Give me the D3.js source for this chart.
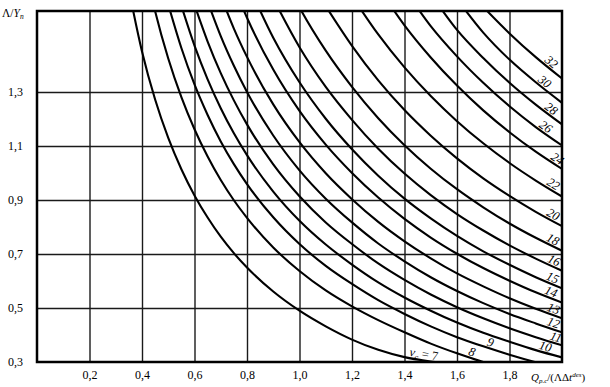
<!DOCTYPE html>
<html>
<head>
<meta charset="utf-8">
<script src="https://cdn.jsdelivr.net/npm/d3@7"></script>
<style>
body { margin: 0; background: #fff; }
text { font-family: "Liberation Serif", "DejaVu Serif", serif; fill: #000; }
</style>
</head>
<body>
<div id="chart"></div>
<script>
var svgWidth = 610;
var svgHeight = 387;

var margin = { top: 11, right: 48, bottom: 25, left: 37 };
var width = svgWidth - margin.left - margin.right;
var height = svgHeight - margin.top - margin.bottom;

// x samples (Q / (Lambda * dt)) shared by all curves
var qGrid = [0.35, 0.4, 0.45, 0.5, 0.55, 0.6, 0.65, 0.7, 0.75, 0.8, 0.9, 1.0,
             1.1, 1.2, 1.3, 1.4, 1.5, 1.6, 1.7, 1.8, 1.9, 2.0];

// curve parameter nu_c
var nuValues = [7, 8, 9, 10, 11, 12, 13, 14, 15, 16, 18, 20, 22, 24, 26, 28, 30, 32];

// index in qGrid of the first value of each curve
var startIdx = [0, 1, 3, 4, 5, 6, 7, 8, 9, 10, 10, 12, 13, 14, 15, 16, 17, 18];

// Lambda / Y_n
var ratio = [
  [1.679, 1.45, 1.272, 1.13, 1.014, 0.917, 0.835, 0.764, 0.703, 0.65, 0.561, 0.49, 0.432, 0.383, 0.345, 0.318, 0.302, 0.292],
  [1.818, 1.599, 1.424, 1.281, 1.162, 1.061, 0.974, 0.899, 0.834, 0.724, 0.637, 0.565, 0.506, 0.455, 0.41, 0.368, 0.332, 0.30, 0.275],
  [1.624, 1.463, 1.328, 1.215, 1.117, 1.033, 0.959, 0.836, 0.737, 0.656, 0.589, 0.529, 0.478, 0.432, 0.392, 0.358, 0.327, 0.299, 0.274],
  [1.619, 1.472, 1.347, 1.24, 1.147, 1.066, 0.931, 0.823, 0.735, 0.661, 0.595, 0.539, 0.49, 0.446, 0.408, 0.375, 0.344, 0.317],
  [1.623, 1.487, 1.37, 1.269, 1.18, 1.032, 0.914, 0.817, 0.737, 0.665, 0.604, 0.55, 0.503, 0.462, 0.425, 0.392, 0.362],
  [1.635, 1.507, 1.397, 1.30, 1.139, 1.01, 0.905, 0.817, 0.739, 0.673, 0.614, 0.563, 0.518, 0.478, 0.443, 0.41],
  [1.656, 1.535, 1.43, 1.254, 1.114, 0.999, 0.903, 0.819, 0.747, 0.684, 0.628, 0.58, 0.536, 0.497, 0.462],
  [1.69, 1.575, 1.383, 1.23, 1.105, 1.0, 0.909, 0.83, 0.761, 0.701, 0.648, 0.601, 0.558, 0.52],
  [1.708, 1.501, 1.336, 1.201, 1.088, 0.99, 0.905, 0.832, 0.767, 0.71, 0.66, 0.614, 0.573],
  [1.646, 1.466, 1.319, 1.197, 1.09, 0.998, 0.918, 0.848, 0.787, 0.732, 0.683, 0.638],
  [1.809, 1.613, 1.453, 1.319, 1.203, 1.103, 1.016, 0.94, 0.873, 0.813, 0.76, 0.712],
  [1.618, 1.471, 1.343, 1.233, 1.138, 1.054, 0.98, 0.915, 0.856, 0.803],
  [1.655, 1.513, 1.391, 1.285, 1.192, 1.11, 1.037, 0.972, 0.913],
  [1.688, 1.547, 1.428, 1.324, 1.232, 1.151, 1.079, 1.015],
  [1.681, 1.544, 1.432, 1.334, 1.247, 1.17, 1.102],
  [1.663, 1.53, 1.426, 1.334, 1.253, 1.18],
  [1.644, 1.52, 1.42, 1.336, 1.26],
  [1.615, 1.517, 1.429, 1.35]
];

// where along each curve its label sits (x value)
var labelQ = [1.47, 1.65, 1.72, 1.93, 1.97, 1.96, 1.96, 1.95, 1.955, 1.96, 1.955, 1.955, 1.955, 1.97, 1.925, 1.945, 1.92, 1.945];

var xTicks = [0.2, 0.4, 0.6, 0.8, 1.0, 1.2, 1.4, 1.6, 1.8];
var yTicks = [0.3, 0.5, 0.7, 0.9, 1.1, 1.3];

var svg = d3.select("#chart")
    .append("svg")
    .attr("width", svgWidth)
    .attr("height", svgHeight);

var chartGroup = svg.append("g")
    .attr("transform", `translate(${margin.left}, ${margin.top})`);

var xScale = d3.scaleLinear().domain([0, 2]).range([0, width]);
var yScale = d3.scaleLinear().domain([0.3, 1.6]).range([height, 0]);

var commaFmt = function (d) { return d3.format(".1f")(d).replace(".", ","); };

// grid + tick labels
var bottomAxis = d3.axisBottom(xScale).tickValues(xTicks).tickSize(-height)
    .tickPadding(8).tickFormat(commaFmt);
var leftAxis = d3.axisLeft(yScale).tickValues(yTicks).tickSize(-width)
    .tickPadding(14).tickFormat(commaFmt);

var gx = chartGroup.append("g")
    .attr("transform", `translate(0, ${height})`)
    .call(bottomAxis);
var gy = chartGroup.append("g").call(leftAxis);

[gx, gy].forEach(function (g) {
    g.select(".domain").remove();
    g.selectAll("line").attr("stroke", "#1a1a1a").attr("stroke-width", 1.4);
    g.selectAll("text").style("font-size", "12px");
});
gy.selectAll(".tick").filter(d => d === 0.3).select("line").remove();

// clip curves to the frame
svg.append("defs").append("clipPath").attr("id", "plotClip")
    .append("rect").attr("width", width).attr("height", height);

var curves = nuValues.map(function (nu, i) {
    return ratio[i].map((v, j) => [qGrid[startIdx[i] + j], v]);
});

var line = d3.line()
    .x(d => xScale(d[0]))
    .y(d => yScale(d[1]))
    .curve(d3.curveMonotoneX);

chartGroup.append("g")
    .attr("clip-path", "url(#plotClip)")
    .selectAll("path")
    .data(curves)
    .enter()
    .append("path")
    .attr("d", line)
    .attr("fill", "none")
    .attr("stroke", "#000")
    .attr("stroke-width", 2.1);

// frame
chartGroup.append("rect")
    .attr("width", width)
    .attr("height", height)
    .attr("fill", "none")
    .attr("stroke", "#000")
    .attr("stroke-width", 2.5);

// value of a curve at q (linear between samples)
function curveAt(pts, q) {
    for (var k = 1; k < pts.length; k++) {
        if (pts[k][0] >= q) {
            var t = (q - pts[k - 1][0]) / (pts[k][0] - pts[k - 1][0]);
            return pts[k - 1][1] + t * (pts[k][1] - pts[k - 1][1]);
        }
    }
    return pts[pts.length - 1][1];
}

// curve labels, rotated along the curve
nuValues.forEach(function (nu, i) {
    var q = labelQ[i];
    var px = xScale(q), py = yScale(curveAt(curves[i], q));
    var p1 = yScale(curveAt(curves[i], q - 0.03)), p2 = yScale(curveAt(curves[i], q + 0.03));
    var angle = Math.atan2(p2 - p1, xScale(q + 0.03) - xScale(q - 0.03)) * 180 / Math.PI;
    var t = chartGroup.append("text")
        .attr("transform", `translate(${px}, ${py}) rotate(${angle})`)
        .attr("y", -2)
        .attr("text-anchor", "middle")
        .style("font-size", "12.5px")
        .style("font-style", "italic");
    if (i === 0) {
        t.append("tspan").text("ν");
        t.append("tspan").attr("dy", 3).style("font-size", "8.5px").text("c");
        t.append("tspan").attr("dy", -3).style("font-style", "normal").text(" = 7");
    } else {
        t.text(nu);
    }
});

// axis titles
var yTitle = svg.append("text").attr("x", 2).attr("y", 17).style("font-size", "11.5px");
yTitle.append("tspan").text("Λ/");
yTitle.append("tspan").style("font-style", "italic").text("Y");
yTitle.append("tspan").attr("dy", 2).style("font-size", "7.5px").style("font-style", "italic").text("n");

var xTitle = svg.append("text").attr("x", 531).attr("y", 381).style("font-size", "11px");
xTitle.append("tspan").style("font-style", "italic").text("Q");
xTitle.append("tspan").attr("dy", 2).style("font-size", "7px").style("font-style", "italic").text("p.c");
xTitle.append("tspan").attr("dy", -2).text("/(ΛΔ");
xTitle.append("tspan").style("font-style", "italic").text("t");
xTitle.append("tspan").attr("dy", -4).style("font-size", "7px").style("font-style", "italic").text("des");
xTitle.append("tspan").attr("dy", 4).text(")");
</script>
</body>
</html>
